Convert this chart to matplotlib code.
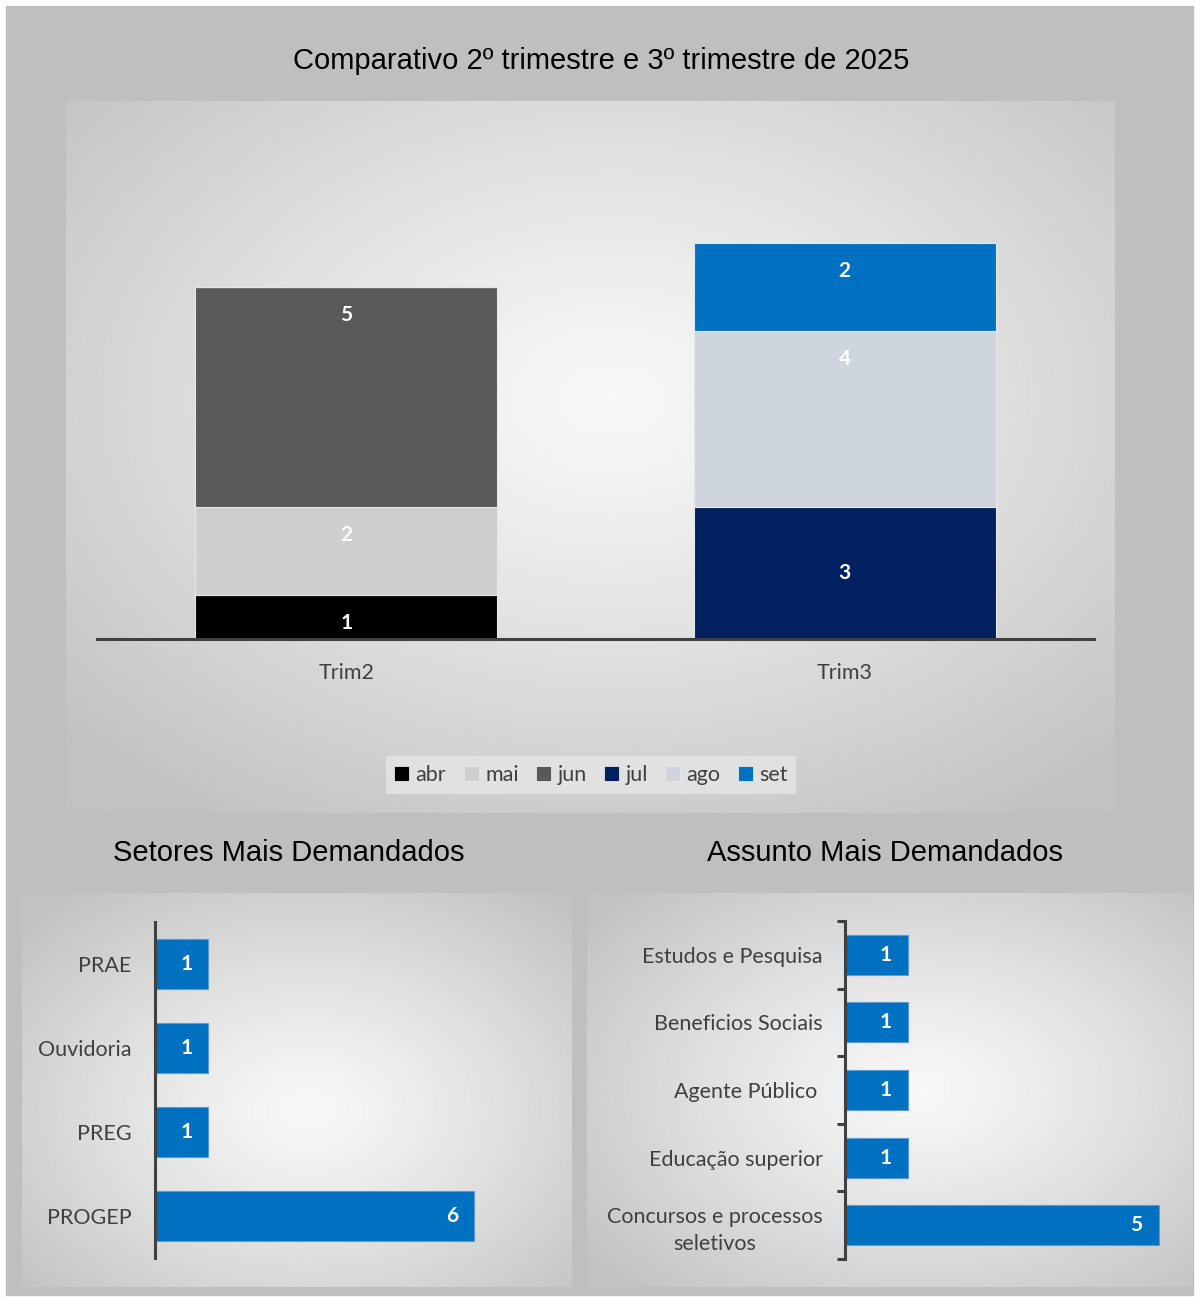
import numpy as np
import matplotlib.pyplot as plt
from matplotlib.patches import Rectangle, Patch

W, H = 1195, 1301

# top chart data
trimestres = ['Trim2', 'Trim3']
meses = ['abr', 'mai', 'jun', 'jul', 'ago', 'set']
valores_trim2 = [1, 2, 5, 0, 0, 0]
valores_trim3 = [0, 0, 0, 3, 4, 2]
cores_meses = ['#000000', '#d0cece', '#595959', '#002060', '#cfd5de', '#0070c0']

# bottom left data
setores = ['PRAE', 'Ouvidoria', 'PREG', 'PROGEP']
valores_setores = [1, 1, 1, 6]

# bottom right data
assuntos = ['Estudos e Pesquisa', 'Beneficios Sociais', 'Agente Público ',
            'Educação superior', 'Concursos e processos\nseletivos']
valores_assuntos = [1, 1, 1, 1, 5]

AZUL = '#0070c0'
TXT = '#404040'
LBL_FONT = ['Lato', 'DejaVu Sans']
TITLE_FONT = ['Liberation Sans', 'DejaVu Sans']
LBL_SIZE = 15.5
VAL_SIZE = 15


def box(x0, y0, x1, y1):
    # pixel box (top-left origin) -> figure fraction
    return [x0 / W, 1 - y1 / H, (x1 - x0) / W, (y1 - y0) / H]


def gradient_panel(fig, x0, y0, x1, y1, cx=0.5, cy=0.5, spread=0.7):
    ax = fig.add_axes(box(x0, y0, x1, y1), zorder=0)
    xx, yy = np.meshgrid(np.linspace(0, 1, 300), np.linspace(0, 1, 300))
    d = np.sqrt(((xx - cx) / spread) ** 2 + ((yy - cy) / spread) ** 2)
    d = np.clip(d, 0, 1)
    img = 0.97 - 0.21 * d ** 1.2
    ax.imshow(img, cmap='gray', vmin=0, vmax=1, aspect='auto',
              extent=[0, 1, 1, 0], interpolation='bilinear')
    ax.axis('off')
    return ax


fig = plt.figure(figsize=(W / 100, H / 100), dpi=100, facecolor='white')

# gray backdrop
bg = fig.add_axes([0, 0, 1, 1], zorder=-1)
bg.set_xlim(0, W)
bg.set_ylim(H, 0)
bg.add_patch(Rectangle((6, 6), 1187, 1289, color='#bfbfbf'))
bg.axis('off')

gradient_panel(fig, 66, 101, 1115, 813, cx=0.52, cy=0.42)
gradient_panel(fig, 22, 893, 572, 1287, cx=0.52, cy=0.55)
gradient_panel(fig, 587, 893, 1193, 1287, cx=0.55, cy=0.5)

fig.text(601 / W, 1 - 61 / H, 'Comparativo 2º trimestre e 3º trimestre de 2025',
         ha='center', va='center', fontsize=21, family=TITLE_FONT, color='black')
fig.text(289 / W, 1 - 853 / H, 'Setores Mais Demandados',
         ha='center', va='center', fontsize=21, family=TITLE_FONT, color='black')
fig.text(885 / W, 1 - 853 / H, 'Assunto Mais Demandados',
         ha='center', va='center', fontsize=21, family=TITLE_FONT, color='black')

## top stacked chart
ax = fig.add_axes(box(97, 199, 1094, 639), zorder=2)
ax.patch.set_alpha(0)
x = np.arange(len(trimestres))
bottoms = np.zeros(len(trimestres))
handles = []
for i, mes in enumerate(meses):
    vals = np.array([valores_trim2[i], valores_trim3[i]])
    ax.bar(x, vals, 0.605, bottom=bottoms, color=cores_meses[i],
           edgecolor='#e6e6e6', linewidth=0.8)
    for xi, v, b in zip(x, vals, bottoms):
        if v == 0:
            continue
        if mes == 'jul':
            ax.text(xi, b + v / 2, str(v), ha='center', va='center',
                    color='white', fontsize=VAL_SIZE, fontweight='bold', family=LBL_FONT)
        else:
            ax.annotate(str(v), (xi, b + v), xytext=(0, -28), textcoords='offset pixels',
                        ha='center', va='center', color='white', fontsize=VAL_SIZE,
                        fontweight='bold', family=LBL_FONT)
    bottoms += vals
    handles.append(Patch(facecolor=cores_meses[i], edgecolor='#e6e6e6', linewidth=0.6, label=mes))

ax.set_xlim(-0.5, 1.5)
ax.set_ylim(0, 10)
ax.set_xticks(x)
ax.set_xticklabels(trimestres, family=LBL_FONT, fontsize=LBL_SIZE, color=TXT)
ax.tick_params(axis='x', length=0, pad=17)
ax.set_yticks([])
for s in ['top', 'right', 'left']:
    ax.spines[s].set_visible(False)
ax.spines['bottom'].set_color(TXT)
ax.spines['bottom'].set_linewidth(2.2)

leg = fig.legend(handles=handles, loc='center', bbox_to_anchor=(591 / W, 1 - 775 / H),
                 ncol=6, frameon=True, fancybox=False, facecolor='#e6e6e6', edgecolor='none',
                 handlelength=0.7, handleheight=0.7, handletextpad=0.3,
                 columnspacing=0.8, prop={'family': LBL_FONT, 'size': LBL_SIZE}, borderpad=0.4)
for t in leg.get_texts():
    t.set_color(TXT)
leg.set_zorder(3)

## bottom left
ax2 = fig.add_axes(box(155, 922, 527, 1258), zorder=2)
ax2.patch.set_alpha(0)
y2 = np.arange(len(setores))
ax2.barh(y2, valores_setores, 0.59, color=AZUL, edgecolor='#5b9bd5', linewidth=0.8)
for yi, v in zip(y2, valores_setores):
    ax2.annotate(str(v), (v, yi), xytext=(-22, 0), textcoords='offset pixels',
                 ha='center', va='center', color='white', fontsize=VAL_SIZE,
                 fontweight='bold', family=LBL_FONT)
ax2.set_xlim(0, 7)
ax2.set_ylim(3.5, -0.5)
ax2.set_yticks(y2)
ax2.set_yticklabels(setores, family=LBL_FONT, fontsize=LBL_SIZE, color=TXT)
ax2.tick_params(axis='y', length=0, pad=17)
ax2.set_xticks([])
for s in ['top', 'right', 'bottom']:
    ax2.spines[s].set_visible(False)
ax2.spines['left'].set_color(TXT)
ax2.spines['left'].set_linewidth(2.2)

## bottom right
ax3 = fig.add_axes(box(845, 921, 1190, 1259), zorder=2)
ax3.patch.set_alpha(0)
y3 = np.arange(len(assuntos))
ax3.barh(y3, valores_assuntos, 0.59, color=AZUL, edgecolor='#5b9bd5', linewidth=0.8)
for yi, v in zip(y3, valores_assuntos):
    ax3.annotate(str(v), (v, yi), xytext=(-22, 0), textcoords='offset pixels',
                 ha='center', va='center', color='white', fontsize=VAL_SIZE,
                 fontweight='bold', family=LBL_FONT)
ax3.set_xlim(0, 5.5)
ax3.set_ylim(4.5, -0.5)
ax3.set_yticks(y3)
ax3.set_yticklabels(assuntos, family=LBL_FONT, fontsize=LBL_SIZE, color=TXT,
                    multialignment='center', linespacing=1.45)
ax3.set_yticks(np.arange(-0.5, len(assuntos)), minor=True)
ax3.tick_params(axis='y', which='major', length=0, pad=16)
ax3.tick_params(axis='y', which='minor', length=6, width=2.2, color=TXT)
ax3.set_xticks([])
for s in ['top', 'right', 'bottom']:
    ax3.spines[s].set_visible(False)
ax3.spines['left'].set_color(TXT)
ax3.spines['left'].set_linewidth(2.2)

plt.savefig('out.png', dpi=100, facecolor='white')
